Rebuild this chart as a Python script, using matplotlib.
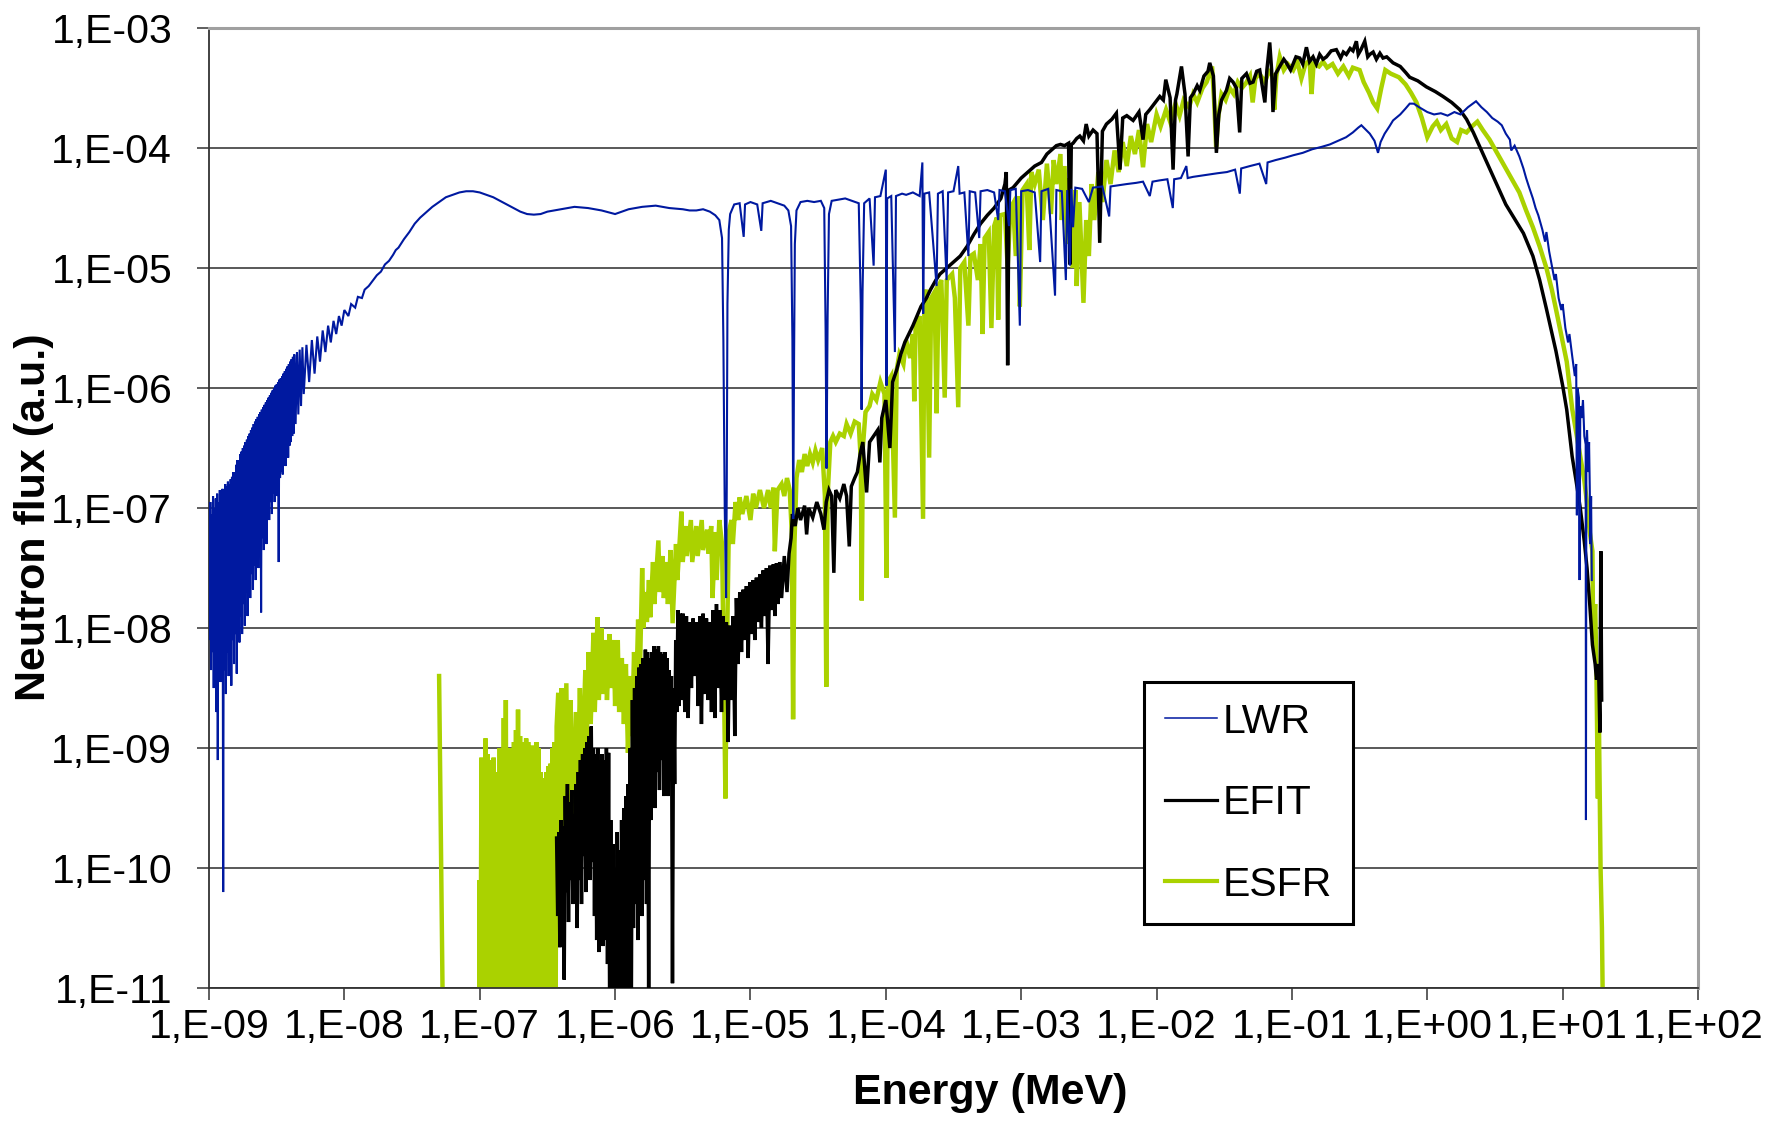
import numpy as np
import matplotlib
matplotlib.use("Agg")
import matplotlib.pyplot as plt
from matplotlib.lines import Line2D
from matplotlib.ticker import FixedLocator, FuncFormatter, NullLocator

plt.rcParams['font.family'] = ['Liberation Sans', 'DejaVu Sans']

# spectra as (log10 E [MeV], log10 flux) pairs
lwr_points = [
    (-9.000, -7.20), (-8.995, -8.10), (-8.990, -6.95), (-8.985, -8.35), (-8.980, -7.05),
    (-8.975, -8.20), (-8.970, -6.90), (-8.965, -8.50), (-8.960, -7.00), (-8.955, -8.30),
    (-8.950, -6.92), (-8.945, -8.70), (-8.940, -6.88), (-8.935, -9.10), (-8.930, -6.95),
    (-8.925, -8.25), (-8.920, -6.85), (-8.915, -8.45), (-8.910, -6.90), (-8.905, -8.30),
    (-8.900, -6.84), (-8.895, -10.20), (-8.890, -6.86), (-8.885, -8.35), (-8.880, -6.80),
    (-8.875, -8.55), (-8.870, -6.82), (-8.865, -8.20), (-8.860, -6.78), (-8.855, -8.40),
    (-8.850, -6.80), (-8.845, -8.25), (-8.840, -6.76), (-8.835, -8.48), (-8.830, -6.74),
    (-8.825, -8.10), (-8.820, -6.70), (-8.815, -8.30), (-8.810, -6.70), (-8.805, -8.05),
    (-8.800, -6.64), (-8.795, -8.38), (-8.790, -6.60), (-8.785, -7.95), (-8.780, -6.60),
    (-8.775, -8.12), (-8.770, -6.55), (-8.765, -7.90), (-8.760, -6.53), (-8.755, -8.05),
    (-8.750, -6.50), (-8.745, -7.80), (-8.740, -6.48), (-8.735, -7.98), (-8.730, -6.45),
    (-8.725, -7.70), (-8.720, -6.43), (-8.715, -7.90), (-8.710, -6.40), (-8.705, -7.62),
    (-8.700, -6.38), (-8.695, -7.75), (-8.690, -6.35), (-8.685, -7.55), (-8.680, -6.33),
    (-8.675, -7.68), (-8.670, -6.30), (-8.665, -7.48), (-8.660, -6.28), (-8.655, -7.60),
    (-8.650, -6.26), (-8.645, -7.40), (-8.640, -6.24), (-8.635, -7.50), (-8.630, -6.22),
    (-8.625, -7.35), (-8.620, -6.20), (-8.615, -7.87), (-8.610, -6.18), (-8.605, -7.25),
    (-8.600, -6.16), (-8.595, -7.35), (-8.590, -6.14), (-8.585, -7.15), (-8.580, -6.12),
    (-8.575, -7.30), (-8.570, -6.10), (-8.565, -7.05), (-8.560, -6.08), (-8.555, -7.10),
    (-8.550, -6.06), (-8.545, -6.95), (-8.540, -6.04), (-8.535, -7.05), (-8.530, -6.02),
    (-8.525, -6.88), (-8.520, -6.00), (-8.515, -6.95), (-8.510, -5.98), (-8.505, -6.80),
    (-8.500, -5.97), (-8.495, -6.90), (-8.490, -5.95), (-8.485, -7.45), (-8.480, -5.93),
    (-8.475, -6.75), (-8.470, -5.92), (-8.465, -6.70), (-8.460, -5.90), (-8.455, -6.72),
    (-8.450, -5.88), (-8.445, -6.62), (-8.440, -5.86), (-8.435, -6.65), (-8.430, -5.84),
    (-8.425, -6.55), (-8.420, -5.82), (-8.415, -6.58), (-8.410, -5.80), (-8.405, -6.48),
    (-8.400, -5.78), (-8.395, -6.45), (-8.390, -5.76), (-8.385, -6.40), (-8.380, -5.74),
    (-8.375, -6.38), (-8.370, -5.72), (-8.360, -6.30), (-8.350, -5.70), (-8.340, -6.22),
    (-8.330, -5.68), (-8.320, -6.15), (-8.310, -5.66), (-8.300, -6.05), (-8.280, -5.64),
    (-8.260, -5.95), (-8.240, -5.60), (-8.220, -5.88), (-8.200, -5.57), (-8.180, -5.78),
    (-8.160, -5.52), (-8.140, -5.70), (-8.120, -5.48), (-8.100, -5.62), (-8.080, -5.44),
    (-8.060, -5.55), (-8.040, -5.40), (-8.020, -5.48), (-8.000, -5.35), (-7.970, -5.40),
    (-7.950, -5.30), (-7.920, -5.33), (-7.900, -5.24), (-7.870, -5.25), (-7.850, -5.18),
    (-7.820, -5.15), (-7.800, -5.12), (-7.760, -5.06), (-7.730, -5.03), (-7.700, -4.97),
    (-7.670, -4.94), (-7.640, -4.89), (-7.620, -4.85), (-7.600, -4.83), (-7.560, -4.76),
    (-7.520, -4.70), (-7.480, -4.63), (-7.440, -4.58), (-7.400, -4.54), (-7.350, -4.49),
    (-7.300, -4.45), (-7.250, -4.41), (-7.200, -4.39), (-7.150, -4.37), (-7.100, -4.36),
    (-7.050, -4.36), (-7.000, -4.37), (-6.950, -4.39), (-6.900, -4.41), (-6.850, -4.44),
    (-6.800, -4.47), (-6.750, -4.50), (-6.700, -4.53), (-6.650, -4.55), (-6.600, -4.555),
    (-6.550, -4.55), (-6.500, -4.53), (-6.450, -4.52), (-6.400, -4.51), (-6.300, -4.49),
    (-6.200, -4.50), (-6.100, -4.52), (-6.000, -4.55), (-5.950, -4.53), (-5.900, -4.51),
    (-5.800, -4.49), (-5.700, -4.48), (-5.600, -4.50), (-5.500, -4.51), (-5.450, -4.52),
    (-5.400, -4.52), (-5.350, -4.51), (-5.300, -4.53), (-5.260, -4.56), (-5.230, -4.60),
    (-5.210, -4.75), (-5.200, -5.60), (-5.190, -7.00), (-5.180, -7.75), (-5.175, -6.80),
    (-5.170, -5.30), (-5.160, -4.68), (-5.150, -4.55), (-5.120, -4.47), (-5.080, -4.46),
    (-5.050, -4.74), (-5.040, -4.47), (-5.000, -4.45), (-4.950, -4.47), (-4.920, -4.69),
    (-4.910, -4.46), (-4.850, -4.44), (-4.800, -4.46), (-4.750, -4.48), (-4.720, -4.52),
    (-4.700, -4.65), (-4.690, -5.60), (-4.684, -7.09), (-4.678, -5.80), (-4.672, -4.80),
    (-4.660, -4.52), (-4.630, -4.45), (-4.580, -4.44), (-4.530, -4.45), (-4.480, -4.44),
    (-4.455, -4.50), (-4.445, -5.50), (-4.438, -6.67), (-4.430, -5.40), (-4.420, -4.55),
    (-4.400, -4.44), (-4.350, -4.43), (-4.300, -4.42), (-4.250, -4.44), (-4.200, -4.46),
    (-4.185, -5.30), (-4.179, -6.18), (-4.172, -5.20), (-4.160, -4.46), (-4.120, -4.42),
    (-4.090, -4.98), (-4.080, -4.41), (-4.040, -4.40), (-4.000, -4.18), (-3.995, -5.98),
    (-3.990, -4.42), (-3.960, -4.40), (-3.933, -5.70), (-3.925, -4.40), (-3.880, -4.38),
    (-3.850, -4.39), (-3.800, -4.37), (-3.750, -4.40), (-3.730, -4.12), (-3.724, -5.38),
    (-3.715, -4.38), (-3.680, -4.37), (-3.625, -5.15), (-3.615, -4.38), (-3.580, -4.36),
    (-3.551, -5.10), (-3.540, -4.37), (-3.500, -4.36), (-3.465, -4.15), (-3.455, -4.38),
    (-3.420, -4.37), (-3.390, -4.90), (-3.380, -4.36), (-3.340, -4.37), (-3.310, -4.75),
    (-3.300, -4.36), (-3.250, -4.35), (-3.200, -4.37), (-3.170, -4.60), (-3.160, -4.35),
    (-3.120, -4.36), (-3.090, -4.65), (-3.080, -4.35), (-3.040, -4.34), (-3.010, -5.48),
    (-3.000, -4.36), (-2.950, -4.35), (-2.900, -4.37), (-2.860, -4.95), (-2.850, -4.36),
    (-2.800, -4.34), (-2.750, -5.23), (-2.740, -4.35), (-2.700, -4.36), (-2.670, -5.10),
    (-2.660, -4.35), (-2.640, -4.98), (-2.630, -4.34), (-2.617, -4.66), (-2.600, -4.33),
    (-2.550, -4.34), (-2.500, -4.45), (-2.470, -4.33), (-2.400, -4.32), (-2.350, -4.57),
    (-2.340, -4.32), (-2.280, -4.31), (-2.220, -4.30), (-2.150, -4.29), (-2.100, -4.28),
    (-2.050, -4.40), (-2.030, -4.28), (-1.980, -4.27), (-1.920, -4.26), (-1.880, -4.50),
    (-1.870, -4.26), (-1.820, -4.25), (-1.780, -4.15), (-1.770, -4.25), (-1.730, -4.24),
    (-1.670, -4.23), (-1.610, -4.22), (-1.550, -4.21), (-1.480, -4.20), (-1.420, -4.18),
    (-1.385, -4.38), (-1.375, -4.17), (-1.310, -4.15), (-1.240, -4.13), (-1.190, -4.30),
    (-1.180, -4.12), (-1.120, -4.10), (-1.050, -4.08), (-0.990, -4.06), (-0.920, -4.04),
    (-0.850, -4.01), (-0.780, -3.99), (-0.720, -3.97), (-0.660, -3.94), (-0.600, -3.91),
    (-0.550, -3.87), (-0.510, -3.83), (-0.487, -3.81), (-0.460, -3.84), (-0.425, -3.88),
    (-0.390, -3.94), (-0.364, -4.04), (-0.345, -3.95), (-0.315, -3.88), (-0.280, -3.82),
    (-0.253, -3.77), (-0.200, -3.72), (-0.160, -3.67), (-0.130, -3.63), (-0.100, -3.63),
    (-0.060, -3.66), (0.000, -3.70), (0.050, -3.72), (0.100, -3.71), (0.150, -3.73),
    (0.200, -3.70), (0.245, -3.72), (0.300, -3.66), (0.360, -3.61), (0.400, -3.66),
    (0.440, -3.70), (0.480, -3.75), (0.520, -3.78), (0.550, -3.81), (0.580, -3.88),
    (0.610, -3.93), (0.620, -4.02), (0.645, -3.98), (0.680, -4.07), (0.710, -4.17),
    (0.730, -4.25), (0.750, -4.32), (0.780, -4.42), (0.800, -4.50), (0.820, -4.56),
    (0.850, -4.68), (0.870, -4.78), (0.880, -4.70), (0.900, -4.86), (0.920, -4.98),
    (0.940, -5.10), (0.950, -5.05), (0.970, -5.25), (0.990, -5.35), (1.000, -5.30),
    (1.020, -5.50), (1.040, -5.62), (1.050, -5.55), (1.070, -5.73), (1.090, -5.90),
    (1.100, -5.80), (1.105, -7.06), (1.110, -6.00), (1.120, -6.08), (1.125, -7.60),
    (1.130, -6.15), (1.140, -6.25), (1.150, -6.10), (1.160, -6.40), (1.170, -6.47),
    (1.172, -9.60), (1.175, -6.55), (1.180, -6.35), (1.190, -6.70), (1.195, -6.45),
    (1.200, -6.82), (1.205, -7.30), (1.210, -6.90), (1.215, -7.60),
]

efit_points = [
    (-6.432, -9.75), (-6.424, -10.40), (-6.416, -9.70), (-6.408, -10.66), (-6.400, -9.60),
    (-6.392, -10.30), (-6.384, -9.65), (-6.376, -10.93), (-6.368, -9.40), (-6.360, -10.20),
    (-6.352, -9.30), (-6.344, -10.45), (-6.336, -9.45), (-6.328, -10.10), (-6.320, -9.35),
    (-6.312, -10.30), (-6.304, -9.55), (-6.296, -10.00), (-6.288, -9.30), (-6.280, -10.50),
    (-6.272, -9.20), (-6.264, -10.10), (-6.256, -9.10), (-6.248, -10.30), (-6.240, -9.05),
    (-6.232, -9.90), (-6.224, -9.00), (-6.216, -10.20), (-6.208, -8.95), (-6.200, -10.00),
    (-6.192, -8.90), (-6.184, -10.10), (-6.176, -8.82), (-6.168, -9.95), (-6.160, -9.00),
    (-6.152, -10.40), (-6.144, -9.05), (-6.136, -10.60), (-6.128, -9.00), (-6.120, -10.70),
    (-6.112, -9.10), (-6.104, -10.50), (-6.096, -9.05), (-6.088, -10.65), (-6.080, -9.10),
    (-6.072, -10.60), (-6.064, -9.00), (-6.056, -10.80), (-6.048, -9.04), (-6.040, -11.20),
    (-6.032, -9.60), (-6.024, -11.20), (-6.016, -9.80), (-6.008, -11.20), (-6.000, -10.00),
    (-5.992, -11.20), (-5.984, -9.70), (-5.976, -11.20), (-5.968, -9.85), (-5.960, -11.20),
    (-5.952, -9.60), (-5.944, -11.20), (-5.936, -9.50), (-5.928, -11.20), (-5.920, -9.40),
    (-5.912, -11.20), (-5.904, -9.30), (-5.896, -11.20), (-5.888, -9.00), (-5.880, -11.20),
    (-5.872, -8.60), (-5.864, -10.50), (-5.856, -8.50), (-5.848, -10.30), (-5.840, -8.40),
    (-5.832, -10.60), (-5.824, -8.33), (-5.816, -10.20), (-5.808, -8.30), (-5.800, -10.40),
    (-5.792, -8.25), (-5.784, -10.10), (-5.776, -8.18), (-5.768, -10.30), (-5.760, -8.20),
    (-5.752, -11.10), (-5.744, -8.25), (-5.736, -9.60), (-5.728, -8.20), (-5.720, -9.40),
    (-5.712, -8.15), (-5.704, -9.50), (-5.696, -8.18), (-5.688, -9.20), (-5.680, -8.15),
    (-5.672, -9.35), (-5.664, -8.20), (-5.656, -9.10), (-5.648, -8.22), (-5.640, -9.40),
    (-5.632, -8.20), (-5.624, -9.25), (-5.616, -8.25), (-5.608, -9.40), (-5.600, -8.35),
    (-5.592, -9.10), (-5.584, -8.40), (-5.576, -10.96), (-5.568, -8.50), (-5.560, -9.30),
    (-5.552, -8.10), (-5.544, -8.70), (-5.536, -7.85), (-5.528, -8.65), (-5.520, -7.88),
    (-5.510, -8.60), (-5.498, -7.88), (-5.485, -8.70), (-5.473, -7.90), (-5.460, -8.75),
    (-5.448, -7.95), (-5.436, -8.50), (-5.424, -7.92), (-5.411, -8.40), (-5.399, -7.95),
    (-5.386, -8.65), (-5.374, -7.90), (-5.362, -8.80), (-5.350, -7.88), (-5.337, -8.55),
    (-5.325, -7.92), (-5.313, -8.60), (-5.300, -7.95), (-5.288, -8.70), (-5.276, -7.85),
    (-5.263, -8.75), (-5.251, -7.80), (-5.239, -8.50), (-5.227, -7.85), (-5.214, -8.70),
    (-5.202, -7.90), (-5.190, -8.60), (-5.178, -7.95), (-5.165, -8.95), (-5.153, -7.98),
    (-5.140, -8.60), (-5.128, -7.90), (-5.116, -8.90), (-5.104, -7.75), (-5.091, -8.30),
    (-5.079, -7.70), (-5.066, -8.20), (-5.054, -7.68), (-5.042, -8.10), (-5.030, -7.65),
    (-5.017, -8.25), (-5.005, -7.62), (-4.993, -8.05), (-4.980, -7.60), (-4.968, -8.10),
    (-4.956, -7.58), (-4.943, -7.95), (-4.931, -7.55), (-4.919, -8.00), (-4.907, -7.52),
    (-4.894, -7.90), (-4.882, -7.50), (-4.870, -8.30), (-4.857, -7.48), (-4.845, -7.85),
    (-4.832, -7.47), (-4.820, -7.90), (-4.808, -7.46), (-4.796, -7.80), (-4.784, -7.45),
    (-4.770, -7.75), (-4.750, -7.40), (-4.730, -7.70), (-4.715, -7.38), (-4.700, -7.25),
    (-4.690, -7.05), (-4.670, -7.15), (-4.650, -7.00), (-4.630, -7.10), (-4.600, -6.98),
    (-4.585, -7.22), (-4.570, -7.00), (-4.540, -7.08), (-4.510, -6.95), (-4.480, -7.05),
    (-4.457, -7.18), (-4.440, -6.95), (-4.420, -6.85), (-4.400, -6.90), (-4.384, -7.54),
    (-4.370, -6.85), (-4.340, -6.92), (-4.310, -6.80), (-4.290, -6.90), (-4.270, -7.32),
    (-4.255, -6.82), (-4.230, -6.75), (-4.210, -6.70), (-4.190, -6.55), (-4.170, -6.45),
    (-4.142, -6.87), (-4.120, -6.45), (-4.090, -6.40), (-4.060, -6.35), (-4.044, -6.62),
    (-4.030, -6.25), (-4.000, -6.10), (-3.970, -6.50), (-3.950, -5.95), (-3.920, -5.85),
    (-3.890, -5.72), (-3.860, -5.62), (-3.830, -5.55), (-3.800, -5.48), (-3.770, -5.40),
    (-3.740, -5.32), (-3.700, -5.25), (-3.670, -5.18), (-3.630, -5.10), (-3.600, -5.05),
    (-3.550, -5.00), (-3.500, -4.95), (-3.450, -4.90), (-3.400, -4.82), (-3.350, -4.72),
    (-3.300, -4.63), (-3.250, -4.56), (-3.200, -4.50), (-3.150, -4.42), (-3.120, -4.30),
    (-3.110, -4.20), (-3.100, -5.81), (-3.090, -4.35), (-3.060, -4.33), (-3.000, -4.25),
    (-2.950, -4.20), (-2.900, -4.15), (-2.850, -4.12), (-2.810, -4.05), (-2.780, -4.02),
    (-2.740, -3.98), (-2.710, -3.97), (-2.680, -3.98), (-2.650, -3.96), (-2.640, -4.97),
    (-2.630, -3.97), (-2.617, -3.96), (-2.590, -3.92), (-2.567, -3.90), (-2.540, -3.94),
    (-2.520, -3.80), (-2.500, -3.90), (-2.469, -3.85), (-2.440, -3.88), (-2.420, -4.79),
    (-2.400, -3.86), (-2.370, -3.80), (-2.330, -3.76), (-2.297, -3.71), (-2.270, -4.18),
    (-2.250, -3.75), (-2.220, -3.73), (-2.173, -3.77), (-2.130, -3.70), (-2.100, -3.93),
    (-2.080, -3.72), (-2.050, -3.68), (-2.010, -3.62), (-1.976, -3.57), (-1.950, -3.60),
    (-1.932, -3.43), (-1.900, -3.58), (-1.878, -4.18), (-1.860, -3.60), (-1.850, -3.55),
    (-1.816, -3.32), (-1.790, -3.55), (-1.767, -4.07), (-1.750, -3.58), (-1.730, -3.55),
    (-1.700, -3.48), (-1.681, -3.52), (-1.650, -3.40), (-1.620, -3.36), (-1.607, -3.29),
    (-1.580, -3.40), (-1.558, -4.04), (-1.540, -3.72), (-1.520, -3.60), (-1.484, -3.52),
    (-1.460, -3.42), (-1.435, -3.45), (-1.410, -3.50), (-1.386, -3.87), (-1.370, -3.42),
    (-1.336, -3.38), (-1.310, -3.46), (-1.287, -3.45), (-1.260, -3.36), (-1.238, -3.35),
    (-1.200, -3.62), (-1.185, -3.35), (-1.164, -3.12), (-1.150, -3.35), (-1.140, -3.70),
    (-1.120, -3.38), (-1.090, -3.32), (-1.060, -3.26), (-1.041, -3.29), (-1.010, -3.35),
    (-0.992, -3.30), (-0.970, -3.24), (-0.942, -3.25), (-0.920, -3.30), (-0.893, -3.16),
    (-0.870, -3.28), (-0.844, -3.24), (-0.820, -3.30), (-0.795, -3.22), (-0.770, -3.26),
    (-0.745, -3.24), (-0.710, -3.19), (-0.672, -3.18), (-0.640, -3.25), (-0.620, -3.20),
    (-0.598, -3.22), (-0.570, -3.17), (-0.549, -3.19), (-0.524, -3.11), (-0.510, -3.22),
    (-0.490, -3.18), (-0.462, -3.11), (-0.440, -3.24), (-0.425, -3.22), (-0.400, -3.20),
    (-0.376, -3.26), (-0.350, -3.21), (-0.327, -3.25), (-0.300, -3.24), (-0.253, -3.29),
    (-0.200, -3.32), (-0.160, -3.37), (-0.130, -3.41), (-0.070, -3.44), (-0.007, -3.49),
    (0.060, -3.53), (0.116, -3.57), (0.180, -3.62), (0.240, -3.68), (0.290, -3.76),
    (0.340, -3.87), (0.400, -4.02), (0.460, -4.17), (0.520, -4.32), (0.580, -4.47),
    (0.640, -4.58), (0.710, -4.71), (0.780, -4.90), (0.830, -5.10), (0.880, -5.34),
    (0.950, -5.69), (1.000, -5.98), (1.030, -6.18), (1.070, -6.57), (1.100, -6.78),
    (1.130, -7.00), (1.160, -7.28), (1.180, -7.50), (1.200, -7.80), (1.220, -8.14),
    (1.240, -8.30), (1.250, -8.43), (1.265, -8.30), (1.275, -8.87), (1.282, -7.36),
    (1.288, -8.60),
]

esfr_points = [
    (-7.300, -8.40), (-7.270, -11.50), (-7.005, -11.50), (-7.000, -10.10), (-6.995, -11.50),
    (-6.987, -9.08), (-6.980, -11.50), (-6.972, -9.25), (-6.965, -11.50), (-6.957, -8.92),
    (-6.950, -11.50), (-6.942, -9.05), (-6.935, -11.50), (-6.927, -9.30), (-6.920, -11.50),
    (-6.912, -9.10), (-6.905, -11.50), (-6.897, -9.08), (-6.890, -11.50), (-6.882, -9.20),
    (-6.875, -11.50), (-6.867, -9.20), (-6.860, -11.50), (-6.852, -9.00), (-6.845, -11.50),
    (-6.837, -9.05), (-6.830, -11.50), (-6.822, -8.75), (-6.815, -11.50), (-6.807, -8.60),
    (-6.800, -11.50), (-6.792, -9.10), (-6.785, -11.50), (-6.777, -9.00), (-6.770, -11.50),
    (-6.762, -9.15), (-6.755, -11.50), (-6.747, -8.95), (-6.740, -11.50), (-6.732, -8.85),
    (-6.725, -11.50), (-6.717, -8.68), (-6.710, -11.50), (-6.702, -8.90), (-6.695, -11.50),
    (-6.687, -8.95), (-6.680, -11.50), (-6.672, -9.05), (-6.665, -11.50), (-6.657, -8.92),
    (-6.650, -11.50), (-6.642, -8.95), (-6.635, -11.50), (-6.627, -9.05), (-6.620, -11.50),
    (-6.612, -8.98), (-6.605, -11.50), (-6.597, -9.10), (-6.590, -11.50), (-6.582, -8.95),
    (-6.575, -11.50), (-6.567, -9.00), (-6.560, -11.50), (-6.552, -9.20), (-6.545, -11.50),
    (-6.537, -9.30), (-6.530, -11.50), (-6.522, -9.25), (-6.515, -11.50), (-6.507, -9.20),
    (-6.500, -11.50), (-6.492, -9.15), (-6.485, -11.50), (-6.477, -9.13), (-6.470, -11.50),
    (-6.462, -9.00), (-6.455, -11.50), (-6.447, -8.95), (-6.440, -11.50), (-6.432, -8.82),
    (-6.420, -8.54), (-6.405, -9.99), (-6.395, -8.50), (-6.385, -9.80), (-6.360, -8.46),
    (-6.350, -9.71), (-6.330, -8.60), (-6.320, -9.60), (-6.290, -8.70), (-6.280, -9.50),
    (-6.260, -8.50), (-6.245, -9.30), (-6.220, -8.35), (-6.210, -9.00), (-6.195, -8.20),
    (-6.180, -8.80), (-6.160, -8.04), (-6.150, -8.70), (-6.130, -7.91), (-6.120, -8.60),
    (-6.100, -8.00), (-6.090, -8.55), (-6.070, -8.10), (-6.060, -8.60), (-6.040, -8.05),
    (-6.030, -8.50), (-6.010, -8.10), (-6.000, -8.65), (-5.980, -8.10), (-5.970, -8.70),
    (-5.950, -8.25), (-5.935, -8.80), (-5.920, -8.30), (-5.905, -9.04), (-5.890, -8.40),
    (-5.875, -8.90), (-5.860, -8.20), (-5.845, -8.60), (-5.830, -7.93), (-5.815, -8.30),
    (-5.800, -7.50), (-5.790, -8.00), (-5.775, -7.70), (-5.765, -7.95), (-5.750, -7.60),
    (-5.740, -7.91), (-5.720, -7.45), (-5.710, -7.80), (-5.680, -7.27), (-5.670, -7.70),
    (-5.650, -7.40), (-5.640, -7.75), (-5.620, -7.45), (-5.610, -7.80), (-5.590, -7.35),
    (-5.575, -7.96), (-5.550, -7.30), (-5.540, -7.60), (-5.510, -7.03), (-5.500, -7.45),
    (-5.480, -7.15), (-5.470, -7.40), (-5.440, -7.10), (-5.430, -7.45), (-5.400, -7.15),
    (-5.390, -7.40), (-5.360, -7.10), (-5.350, -7.35), (-5.320, -7.18), (-5.310, -7.38),
    (-5.290, -7.15), (-5.280, -7.75), (-5.260, -7.20), (-5.250, -7.60), (-5.230, -7.10),
    (-5.210, -7.30), (-5.195, -8.50), (-5.185, -9.42), (-5.175, -8.30), (-5.160, -7.20),
    (-5.140, -7.10), (-5.130, -7.30), (-5.110, -6.95), (-5.090, -7.10), (-5.080, -6.91),
    (-5.060, -7.05), (-5.030, -6.90), (-5.000, -7.10), (-4.980, -6.88), (-4.960, -7.00),
    (-4.930, -6.85), (-4.900, -7.00), (-4.870, -6.85), (-4.850, -7.00), (-4.830, -6.83),
    (-4.820, -7.36), (-4.800, -6.85), (-4.770, -6.80), (-4.750, -6.90), (-4.730, -6.75),
    (-4.710, -6.85), (-4.695, -7.20), (-4.685, -8.76), (-4.675, -7.30), (-4.660, -6.75),
    (-4.640, -6.60), (-4.620, -6.70), (-4.600, -6.55), (-4.580, -6.65), (-4.560, -6.55),
    (-4.540, -6.62), (-4.520, -6.52), (-4.500, -6.60), (-4.470, -6.50), (-4.450, -6.90),
    (-4.440, -8.49), (-4.430, -6.90), (-4.410, -6.45), (-4.390, -6.40), (-4.370, -6.45),
    (-4.340, -6.38), (-4.310, -6.40), (-4.290, -6.30), (-4.260, -6.38), (-4.230, -6.28),
    (-4.200, -6.30), (-4.185, -6.60), (-4.178, -7.77), (-4.170, -6.50), (-4.150, -6.20),
    (-4.120, -6.15), (-4.100, -6.05), (-4.070, -6.10), (-4.040, -5.95), (-4.010, -6.05),
    (-3.995, -7.58), (-3.985, -5.95), (-3.960, -5.90), (-3.933, -7.08), (-3.920, -5.85),
    (-3.900, -5.72), (-3.870, -5.80), (-3.850, -5.60), (-3.820, -5.75), (-3.800, -5.55),
    (-3.790, -6.11), (-3.780, -5.50), (-3.750, -5.40), (-3.725, -7.09), (-3.715, -5.30),
    (-3.700, -5.18), (-3.680, -6.58), (-3.665, -5.25), (-3.640, -5.20), (-3.625, -6.21),
    (-3.610, -5.15), (-3.590, -5.10), (-3.565, -6.08), (-3.550, -5.10), (-3.510, -5.05),
    (-3.490, -5.25), (-3.465, -6.16), (-3.450, -5.00), (-3.420, -4.95), (-3.390, -5.48),
    (-3.375, -4.90), (-3.350, -4.88), (-3.320, -5.10), (-3.300, -4.80), (-3.285, -5.55),
    (-3.270, -4.75), (-3.240, -4.70), (-3.220, -5.50), (-3.200, -4.65), (-3.180, -4.58),
    (-3.170, -5.43), (-3.155, -4.56), (-3.120, -4.55), (-3.100, -5.00), (-3.080, -4.50),
    (-3.060, -4.46), (-3.040, -4.90), (-3.020, -4.40), (-3.010, -5.32), (-2.990, -4.35),
    (-2.960, -4.30), (-2.940, -4.85), (-2.925, -4.20), (-2.900, -4.30), (-2.870, -4.18),
    (-2.840, -4.60), (-2.810, -4.13), (-2.780, -4.55), (-2.760, -4.10), (-2.740, -4.30),
    (-2.710, -4.05), (-2.700, -4.60), (-2.680, -4.15), (-2.660, -4.80), (-2.645, -4.25),
    (-2.620, -5.00), (-2.600, -4.35), (-2.590, -5.15), (-2.570, -4.45), (-2.550, -5.00),
    (-2.540, -5.29), (-2.520, -4.60), (-2.500, -4.90), (-2.480, -4.30), (-2.460, -4.60),
    (-2.430, -4.20), (-2.400, -4.45), (-2.370, -4.10), (-2.340, -4.30), (-2.310, -4.02),
    (-2.280, -4.20), (-2.250, -3.95), (-2.220, -4.15), (-2.190, -3.90), (-2.160, -4.05),
    (-2.130, -3.85), (-2.100, -4.16), (-2.070, -3.80), (-2.040, -3.95), (-2.000, -3.72),
    (-1.970, -3.82), (-1.930, -3.68), (-1.900, -3.78), (-1.860, -3.63), (-1.830, -3.73),
    (-1.800, -3.60), (-1.760, -3.66), (-1.730, -3.55), (-1.700, -3.62), (-1.660, -3.50),
    (-1.630, -3.45), (-1.590, -3.32), (-1.575, -3.60), (-1.560, -3.99), (-1.545, -3.75),
    (-1.520, -3.55), (-1.490, -3.60), (-1.460, -3.50), (-1.430, -3.55), (-1.400, -3.45),
    (-1.370, -3.50), (-1.340, -3.46), (-1.310, -3.40), (-1.290, -3.62), (-1.270, -3.42),
    (-1.240, -3.38), (-1.200, -3.45), (-1.170, -3.36), (-1.140, -3.40), (-1.130, -3.68),
    (-1.115, -3.40), (-1.090, -3.24), (-1.060, -3.35), (-1.030, -3.30), (-0.990, -3.35),
    (-0.960, -3.28), (-0.930, -3.42), (-0.900, -3.30), (-0.870, -3.27), (-0.855, -3.55),
    (-0.840, -3.30), (-0.800, -3.32), (-0.770, -3.28), (-0.740, -3.33), (-0.700, -3.30),
    (-0.660, -3.38), (-0.620, -3.32), (-0.580, -3.40), (-0.550, -3.33), (-0.500, -3.35),
    (-0.470, -3.45), (-0.430, -3.54), (-0.400, -3.62), (-0.370, -3.67), (-0.340, -3.50),
    (-0.310, -3.35), (-0.270, -3.38), (-0.210, -3.41), (-0.160, -3.47), (-0.120, -3.54),
    (-0.080, -3.62), (-0.040, -3.75), (0.000, -3.91), (0.040, -3.82), (0.070, -3.78),
    (0.100, -3.85), (0.140, -3.80), (0.180, -3.92), (0.220, -3.95), (0.250, -3.85),
    (0.290, -3.87), (0.330, -3.82), (0.370, -3.78), (0.410, -3.85), (0.460, -3.93),
    (0.520, -4.05), (0.580, -4.17), (0.630, -4.27), (0.680, -4.37), (0.730, -4.52),
    (0.780, -4.66), (0.830, -4.82), (0.880, -5.00), (0.920, -5.18), (0.950, -5.34),
    (0.990, -5.56), (1.030, -5.78), (1.070, -6.17), (1.100, -6.37), (1.130, -6.57),
    (1.160, -6.77), (1.180, -6.96), (1.200, -7.20), (1.220, -7.36), (1.225, -8.09),
    (1.240, -7.80), (1.250, -8.40), (1.260, -9.42), (1.265, -8.33), (1.270, -9.00),
    (1.280, -10.00), (1.290, -10.50), (1.295, -11.03), (1.300, -11.50),
]

# name, data, colour, plotted width, legend width, zorder
series = [
    ("LWR", lwr_points, "#0019A0", 1.5, 1.1, 4),
    ("EFIT", efit_points, "#000000", 2.5, 2.3, 3),
    ("ESFR", esfr_points, "#AAD200", 3.2, 3.0, 2),
]

x_decades = np.arange(-9, 3)
y_decades = np.arange(-11, -2)

fig = plt.figure(figsize=(17.71, 11.22), dpi=100)
ax = fig.add_axes([0.118, 0.1194, 0.8408, 0.8556])

handles = []
for name, pts, color, lw, leg_lw, z in series:
    loge, logf = np.array(pts).T
    ax.plot(10.0 ** loge, 10.0 ** logf, color=color, linewidth=lw,
            zorder=z, solid_joinstyle='miter')
    handles.append(Line2D([], [], color=color, linewidth=leg_lw, label=name))

ax.set_xscale('log')
ax.set_yscale('log')
ax.set_xlim(10.0 ** x_decades[0], 10.0 ** x_decades[-1])
ax.set_ylim(10.0 ** y_decades[0], 10.0 ** y_decades[-1])

fmt = FuncFormatter(lambda v, p: "1,E%+03d" % int(round(np.log10(v))))
ax.xaxis.set_major_locator(FixedLocator(10.0 ** x_decades))
ax.yaxis.set_major_locator(FixedLocator(10.0 ** y_decades))
ax.xaxis.set_minor_locator(NullLocator())
ax.yaxis.set_minor_locator(NullLocator())
ax.xaxis.set_major_formatter(fmt)
ax.yaxis.set_major_formatter(fmt)

ax.tick_params(axis='both', which='major', direction='out', length=8.5, width=1.1,
               color='#333333', labelsize=29.5, labelcolor='black')
ax.tick_params(axis='y', pad=18)
ax.tick_params(axis='x', pad=6)

ax.yaxis.grid(True, color='#3c3c3c', linewidth=1.2)
ax.set_axisbelow(True)

for side in ('left', 'bottom'):
    ax.spines[side].set_color('#333333')
    ax.spines[side].set_linewidth(1.3)
for side in ('top', 'right'):
    ax.spines[side].set_color('#a0a0a0')
    ax.spines[side].set_linewidth(2.2)

ax.set_xlabel('Energy (MeV)', fontsize=31, fontweight='bold', va='center')
ax.xaxis.set_label_coords(0.525, -0.109)
ax.set_ylabel('Neutron flux (a.u.)', fontsize=31, fontweight='bold', va='center')
ax.yaxis.set_label_coords(-0.1175, 0.49)

leg = ax.legend(handles=handles, loc='upper left', bbox_to_anchor=(0.628, 0.3185),
                borderaxespad=0, fontsize=29.5, frameon=True, fancybox=False,
                handlelength=1.27, handletextpad=0.15, labelspacing=1.06,
                borderpad=0.5)
leg.get_frame().set_edgecolor('black')
leg.get_frame().set_linewidth(2.2)
leg.get_frame().set_alpha(1)
leg.set_zorder(10)

fig.savefig('out.png', dpi=100, facecolor='white')
